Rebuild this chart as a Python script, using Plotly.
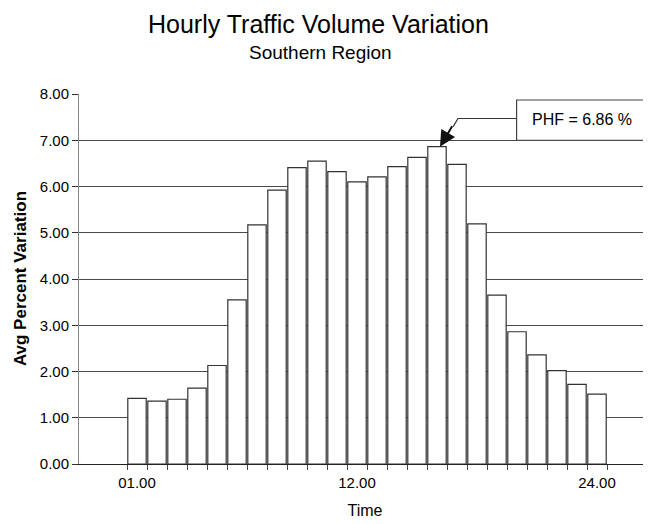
import plotly.graph_objects as go

# ---- data ----
hours = list(range(1, 25))
avg_percent = [1.42, 1.36, 1.40, 1.64, 2.13, 3.55, 5.17, 5.92, 6.41, 6.55, 6.32, 6.10,
               6.21, 6.43, 6.63, 6.86, 6.48, 5.19, 3.65, 2.86, 2.36, 2.02, 1.72, 1.51]
x_tick_vals = [1, 12, 24]
x_tick_text = ["01.00", "12.00", "24.00"]
y_tick_vals = [0, 1, 2, 3, 4, 5, 6, 7, 8]
y_tick_text = ["0.00", "1.00", "2.00", "3.00", "4.00", "5.00", "6.00", "7.00", "8.00"]
phf_label = "PHF = 6.86 %"

peak_i = max(range(len(avg_percent)), key=lambda i: avg_percent[i])
peak_x = hours[peak_i]
peak_y = avg_percent[peak_i]
bar_edges = [h - 0.5 for h in hours] + [hours[-1] + 0.5]

SANS = "Liberation Sans, Arial, sans-serif"

fig = go.Figure()
fig.add_trace(go.Bar(
    x=hours, y=avg_percent,
    marker=dict(color="white", line=dict(color="#333", width=1.2)),
    hoverinfo="x+y",
))

# the page body adds an 8px margin, so the figure is 8px smaller each way
fig.update_layout(
    width=643, height=516,
    margin=dict(l=71, r=0, t=86, b=60),
    paper_bgcolor="white", plot_bgcolor="white",
    showlegend=False,
    bargap=0.08,
    font=dict(family=SANS, color="#111"),
    xaxis=dict(
        range=[-1.9, 26.7],
        tickmode="array", tickvals=x_tick_vals, ticktext=x_tick_text,
        ticks="outside", ticklen=5, tickcolor="rgba(0,0,0,0)",
        tickfont=dict(family=SANS, size=15, color="#000"),
        showgrid=False, zeroline=False,
        showline=True, linecolor="#222", linewidth=1.3,
        minor=dict(ticks="outside", tickmode="array", tickvals=bar_edges, ticklen=5,
                   tickcolor="#444", tickwidth=1, showgrid=False),
        title=dict(text="Time", font=dict(family=SANS, size=16, color="#000"), standoff=14),
    ),
    yaxis=dict(
        range=[0, 8],
        tickmode="array", tickvals=y_tick_vals, ticktext=y_tick_text,
        ticks="outside", ticklen=6, tickcolor="#333",
        tickfont=dict(family=SANS, size=15, color="#000"),
        showgrid=True, gridcolor="#4a4a4a", gridwidth=1,
        zeroline=False,
        showline=True, linecolor="#888", linewidth=1,
    ),
)

# titles
fig.add_annotation(text="Hourly Traffic Volume Variation", xref="paper", yref="paper",
                   x=0.418, y=1.19, xanchor="center", yanchor="middle", showarrow=False,
                   font=dict(family=SANS, size=25, color="#000"))
fig.add_annotation(text="Southern Region", xref="paper", yref="paper",
                   x=0.422, y=1.112, xanchor="center", yanchor="middle", showarrow=False,
                   font=dict(family=SANS, size=19, color="#000"))
fig.add_annotation(text="<b>Avg Percent Variation</b>", xref="paper", yref="paper",
                   x=-0.103, y=0.5, xanchor="center", yanchor="middle", showarrow=False,
                   textangle=-90, font=dict(family=SANS, size=17, color="#000"))

# PHF callout box
fig.add_shape(type="rect", x0=19.98, x1=26.48, y0=7.0, y1=7.87,
              line=dict(color="#444", width=1.2), fillcolor="white", layer="above")
fig.add_annotation(text=phf_label, x=23.23, y=7.44, xanchor="center", yanchor="middle",
                   showarrow=False, font=dict(family=SANS, size=16, color="#000"))
# elbow leader line
fig.add_shape(type="path", path="M 19.98 7.47 L 17.05 7.47 L 16.8 7.29",
              line=dict(color="#333", width=1.2), layer="above")
# arrowhead
fig.add_annotation(x=peak_x + 0.15, y=peak_y, ax=13, ay=-22, text="",
                   showarrow=True, arrowhead=2, arrowsize=1.6, arrowwidth=2,
                   arrowcolor="#111", standoff=0)

fig.write_html("out.html")
